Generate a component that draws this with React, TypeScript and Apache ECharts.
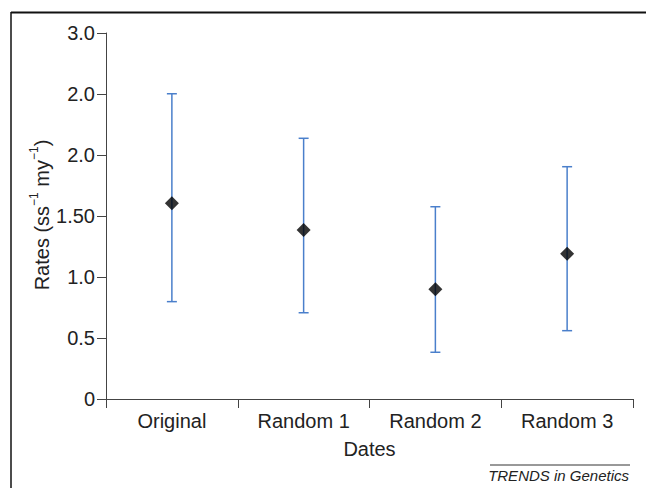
import React, { useEffect, useRef } from "react";
import * as echarts from "echarts";

const categories = ["Original", "Random 1", "Random 2", "Random 3"];
const means = [1.604, 1.385, 0.899, 1.19];
const lows = [0.798, 0.707, 0.383, 0.56];
const highs = [2.502, 2.137, 1.576, 1.904];
const yTickLabels = ["0", "0.5", "1.0", "1.50", "2.0", "2.0", "3.0"];

const FONT = "'Liberation Sans', Arial, Helvetica, sans-serif";

export default function App() {
  const ref = useRef<HTMLDivElement>(null);
  useEffect(() => {
    if (!ref.current) return;
    const chart = echarts.init(ref.current, null, { renderer: "svg" });
    const errData = categories.map((_, i) => [i, lows[i], highs[i]]);
    chart.setOption({
      animation: false,
      backgroundColor: "#ffffff",
      grid: { left: 106, right: 13, top: 33, bottom: 89, containLabel: false },
      xAxis: {
        type: "category",
        data: categories,
        boundaryGap: true,
        name: "Dates",
        nameLocation: "middle",
        nameGap: 40,
        nameTextStyle: { fontFamily: FONT, fontSize: 20, color: "#222" },
        axisLine: { lineStyle: { color: "#444", width: 1 } },
        axisTick: { show: true, length: 9, lineStyle: { color: "#444" }, alignWithLabel: false },
        axisLabel: { fontFamily: FONT, fontSize: 20, color: "#222", margin: 12, interval: 0 },
        splitLine: { show: false },
      },
      yAxis: {
        type: "value",
        min: 0,
        max: 3,
        interval: 0.5,
        axisLine: { show: true, lineStyle: { color: "#444", width: 1 } },
        axisTick: { show: true, length: 9, lineStyle: { color: "#444" } },
        axisLabel: {
          fontFamily: FONT,
          fontSize: 20,
          color: "#222",
          margin: 11,
          formatter: (v: number) => yTickLabels[Math.round(v / 0.5)] ?? "",
        },
        splitLine: { show: false },
      },
      series: [
        {
          type: "custom",
          data: errData,
          renderItem: (params: any, api: any) => {
            const x = api.value(0);
            const lo = api.coord([x, api.value(1)]);
            const hi = api.coord([x, api.value(2)]);
            const half = 5;
            const style = { stroke: "#4a7fcb", lineWidth: 1.5 };
            return {
              type: "group",
              children: [
                { type: "line", shape: { x1: hi[0], y1: hi[1], x2: lo[0], y2: lo[1] }, style },
                { type: "line", shape: { x1: hi[0] - half, y1: hi[1], x2: hi[0] + half, y2: hi[1] }, style },
                { type: "line", shape: { x1: lo[0] - half, y1: lo[1], x2: lo[0] + half, y2: lo[1] }, style },
              ],
            };
          },
          z: 2,
        },
        {
          type: "scatter",
          data: means,
          symbol: "diamond",
          symbolSize: [14, 14],
          itemStyle: { color: "#000" },
          z: 3,
        },
      ],
      graphic: [
        { type: "line", shape: { x1: 11, y1: 12.5, x2: 646, y2: 12.5 }, style: { stroke: "#111", lineWidth: 2 } },
        { type: "line", shape: { x1: 11, y1: 12, x2: 11, y2: 488 }, style: { stroke: "#111", lineWidth: 1.5 } },
        {
          type: "text",
          x: 40,
          y: 215,
          rotation: Math.PI / 2,
          style: {
            text: "{b|Rates (ss}{s|−1}{b| my}{s|−1}{b|)}",
            fontFamily: FONT,
            fontSize: 20,
            fill: "#222",
            align: "center",
            verticalAlign: "middle",
            rich: {
              b: { fontFamily: FONT, fontSize: 20, fill: "#222", lineHeight: 24, verticalAlign: "bottom" },
              s: { fontFamily: FONT, fontSize: 12, fill: "#222", lineHeight: 24, verticalAlign: "top" },
            },
          },
        },
        { type: "line", shape: { x1: 490, y1: 465, x2: 630, y2: 465 }, style: { stroke: "#333", lineWidth: 1 } },
        {
          type: "text",
          x: 629,
          y: 475,
          style: {
            text: "TRENDS in Genetics",
            fontFamily: FONT,
            fontStyle: "italic",
            fontSize: 15,
            fill: "#222",
            align: "right",
            verticalAlign: "middle",
          },
        },
      ],
    });
    return () => chart.dispose();
  }, []);
  return <div ref={ref} style={{ width: 646, height: 488, position: "absolute", left: 0, top: 0 }} />;
}
